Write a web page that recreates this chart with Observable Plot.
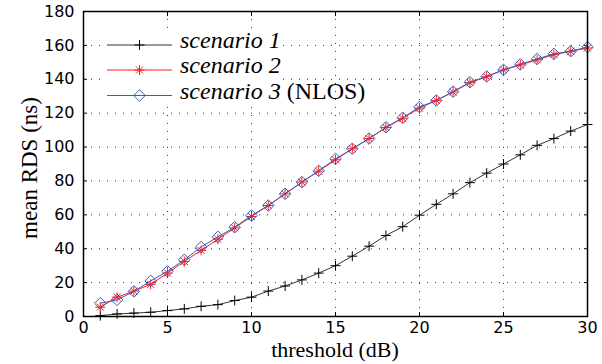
<!DOCTYPE html>
<html><head><meta charset="utf-8">
<script src="https://cdn.jsdelivr.net/npm/d3@7"></script>
<script src="https://cdn.jsdelivr.net/npm/@observablehq/plot@0.6"></script>
<style>body{margin:0;background:#fff}</style>
</head><body><div id="chart"></div>
<script>
const thresholds = [1,2,3,4,5,6,7,8,9,10,11,12,13,14,15,16,17,18,19,20,21,22,23,24,25,26,27,28,29,30];
const scenario1 = [0.5,1.5,2,2.5,3.5,4.5,6,7,9.4,11.4,15,18,21.6,25.6,30,35.6,41.5,47.8,53,59.8,66.2,72.4,79,84.6,90,95.4,101,105,109.4,113.3];
const scenario2 = [5.5,11.4,15,19,25.6,32.5,39,45.6,52.3,59,65.5,72.4,79.3,85.8,92.5,99,105,111.5,117,123,127.5,132.5,138,141.5,145.5,148.5,151.5,154.5,156.5,158.5];
const scenario3 = [7.8,9.8,14.8,21,26.7,33.5,41,47,52.7,59.6,65.5,72.4,79.3,86,93,99,105,111.7,117.3,123.6,127.5,132.7,138.3,141.7,145.6,148.8,152,155,156.6,159];
const seriesNames = ["scenario 1", "scenario 2", "scenario 3"];
const xTicks = [0,5,10,15,20,25,30];
const yTicks = [0,20,40,60,80,100,120,140,160,180];
const xLabel = "threshold (dB)";
const yLabel = "mean RDS (ns)";

const d1 = thresholds.map((t,i)=>({t, v: scenario1[i]}));
const d2 = thresholds.map((t,i)=>({t, v: scenario2[i]}));
const d3s = thresholds.map((t,i)=>({t, v: scenario3[i]}));

const BLUE = "#3d5bb3", RED = "#ff1a1a";
const tickFont = "DejaVu Sans";
const serif = "Liberation Serif";
const noText = () => "";

const chart = Plot.plot({
  width: 602, height: 364,
  marginLeft: 83, marginRight: 15, marginTop: 11, marginBottom: 48,
  style: {background: "white", fontFamily: tickFont, fontSize: "16px", color: "black", overflow: "visible"},
  x: {domain: [0, 30]},
  y: {domain: [0, 180]},
  marks: [
    Plot.gridX(xTicks, {stroke: "#333", strokeOpacity: 1, strokeWidth: 1, strokeDasharray: "1,7"}),
    Plot.gridY(yTicks, {stroke: "#333", strokeOpacity: 1, strokeWidth: 1, strokeDasharray: "1,7"}),
    Plot.axisX(xTicks, {anchor: "bottom", tickSize: 0, tickPadding: 5, label: null, fontFamily: tickFont, fontSize: 16}),
    Plot.axisY(yTicks, {anchor: "left", tickSize: 0, tickPadding: 9, label: null, fontFamily: tickFont, fontSize: 16}),
    Plot.axisX(xTicks, {anchor: "bottom", tickSize: 4, dy: -4, tickFormat: noText, label: null}),
    Plot.axisX(xTicks, {anchor: "top", tickSize: 4, dy: 4, tickFormat: noText, label: null}),
    Plot.axisY(yTicks, {anchor: "left", tickSize: 4, dx: 4, tickFormat: noText, label: null}),
    Plot.axisY(yTicks, {anchor: "right", tickSize: 4, dx: -4, tickFormat: noText, label: null}),
    Plot.line(d1, {x: "t", y: "v", stroke: "black", strokeWidth: 0.8}),
    Plot.dot(d1, {x: "t", y: "v", symbol: "plus", r: 3.3, stroke: "black", strokeWidth: 1}),
    Plot.line(d2, {x: "t", y: "v", stroke: RED, strokeWidth: 1}),
    Plot.dot(d2, {x: "t", y: "v", symbol: "plus", r: 3.3, stroke: RED, strokeWidth: 1}),
    Plot.dot(d2, {x: "t", y: "v", symbol: "times", r: 3.3, stroke: RED, strokeWidth: 1}),
    Plot.line(d3s, {x: "t", y: "v", stroke: BLUE, strokeWidth: 1}),
    Plot.dot(d3s, {x: "t", y: "v", symbol: "diamond2", r: 5.2, stroke: BLUE, fill: "none", strokeWidth: 1}),
    Plot.frame({stroke: "black", strokeWidth: 1.5})
  ]
});
document.getElementById("chart").appendChild(chart);

const svg = d3.select(chart);
// axis titles (serif, as in the original)
svg.append("text").attr("x", 335).attr("y", 357).attr("text-anchor", "middle")
  .style("font-family", serif).style("font-size", "22px").attr("fill", "black")
  .style("white-space", "pre").text(xLabel);
svg.append("text").attr("transform", "translate(37,168) rotate(-90)").attr("text-anchor", "middle")
  .style("font-family", serif).style("font-size", "23px").attr("fill", "black").text(yLabel);

// legend
const lg = svg.append("g");
lg.append("rect").attr("x", 103).attr("y", 35).attr("width", 180).attr("height", 71).attr("fill", "white");
const rows = [
  {y: 45, color: "black", syms: [[d3.symbolPlus, 3.3]]},
  {y: 70, color: RED, syms: [[d3.symbolPlus, 3.3], [d3.symbolTimes, 3.3]]},
  {y: 95.5, color: BLUE, syms: [[d3.symbolDiamond2, 5.2]]}
];
rows.forEach((r, i) => {
  lg.append("line").attr("x1", 107).attr("x2", 172).attr("y1", r.y).attr("y2", r.y)
    .attr("stroke", r.color).attr("stroke-width", i === 0 ? 0.8 : 1);
  r.syms.forEach(([s, rr]) => {
    lg.append("path").attr("d", d3.symbol(s, Math.PI * rr * rr)())
      .attr("transform", `translate(139.5,${r.y})`).attr("fill", "none")
      .attr("stroke", r.color).attr("stroke-width", 1);
  });
  const t = lg.append("text").attr("x", 180).attr("y", r.y + 3.3).attr("text-anchor", "start")
    .style("font-family", serif).style("font-size", "24px").attr("fill", "black");
  t.append("tspan").style("font-style", "italic").text(seriesNames[i]);
  if (i === 2) t.append("tspan").text(" (NLOS)");
});
</script>
</body></html>
